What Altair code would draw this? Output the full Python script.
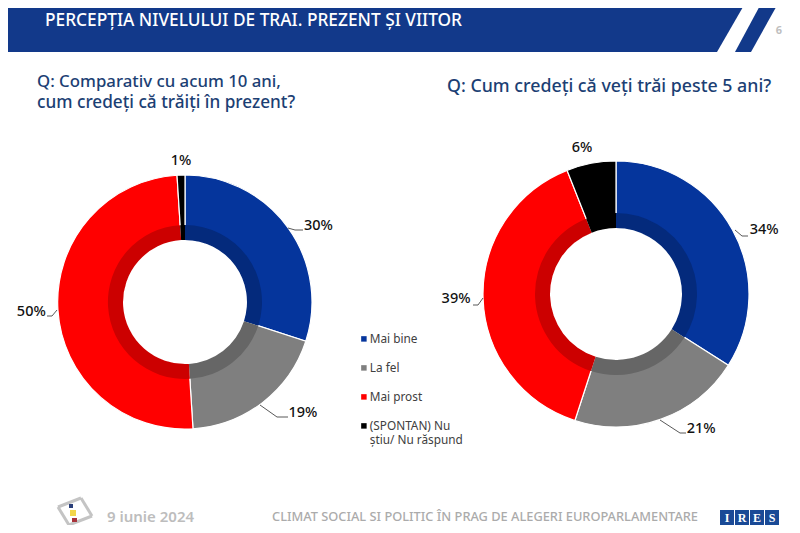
import altair as alt
import pandas as pd

categories = ["Mai bine", "La fel", "Mai prost", "(SPONTAN) Nu știu/ Nu răspund"]
present_values = [30, 19, 50, 1]
future_values = [34, 21, 39, 6]
base_colors = ["#05359c", "#7f7f7f", "#ff0000", "#000000"]
dark_colors = ["#042a7c", "#666666", "#cc0000", "#000000"]

OFF = 8  # page margin: reference pixel -> chart pixel
FONT = "Noto Sans"


def px(v):
    return v - OFF


one = alt.Data(values=[{"a": 1}])


def frame(values):
    return pd.DataFrame({
        "cat": categories,
        "value": values,
        "i": list(range(len(categories))),
        "label": [f"{v}%" for v in values],
        "dark": dark_colors,
    })


def text(s, x, y, size, color, weight=400, align="left", font=FONT):
    return alt.Chart(one).mark_text(
        text=s, fontSize=size, color=color, fontWeight=weight, align=align,
        baseline="middle", font=font,
    ).encode(x=alt.value(px(x)), y=alt.value(px(y)))


def seg(x1, y1, x2, y2, color="#595959", w=1.0):
    return alt.Chart(one).mark_rule(color=color, strokeWidth=w).encode(
        x=alt.value(px(x1)), x2=alt.value(px(x2)), y=alt.value(px(y1)), y2=alt.value(px(y2))
    )


def rect(x1, y1, x2, y2, color):
    return alt.Chart(one).mark_rect(color=color).encode(
        x=alt.value(px(x1)), x2=alt.value(px(x2)), y=alt.value(px(y1)), y2=alt.value(px(y2))
    )


def slant(xt1, xt2, xb1, xb2, color):
    rows = [{"x": px(xt1), "x2": px(xt2), "y": px(0)}, {"x": px(xb1), "x2": px(xb2), "y": px(52)}]
    return alt.Chart(alt.Data(values=rows)).mark_area(color=color, orient="horizontal").encode(
        x=alt.X("x:Q", scale=None, axis=None), x2="x2:Q", y=alt.Y("y:Q", scale=None, axis=None)
    )


def donut(values, cx, cy, r_out, r_dark, r_in, legend):
    theta = alt.Theta("value:Q", stack=True, scale=alt.Scale(domain=[0, 100]))
    pos = dict(x=alt.value(px(cx)), y=alt.value(px(cy)), order=alt.Order("i:Q"))
    color = alt.Color(
        "cat:N", sort=categories, scale=alt.Scale(domain=categories, range=base_colors), legend=legend
    )
    src = alt.Chart(frame(values))
    outer = src.mark_arc(outerRadius=r_out, innerRadius=r_in, stroke="white", strokeWidth=1.2).encode(
        theta=theta, color=color, **pos
    )
    inner = src.mark_arc(outerRadius=r_dark, innerRadius=r_in).encode(
        theta=theta, fill=alt.Fill("dark:N", scale=None), **pos
    )
    return [outer, inner]


def labels(values, cx, cy, radius, offsets):
    theta = alt.Theta("value:Q", stack=True, scale=alt.Scale(domain=[0, 100]))
    out = []
    for i, (dx, dy) in enumerate(offsets):
        out.append(
            alt.Chart(frame(values)).mark_text(
                radius=radius, dx=dx, dy=dy, fontSize=14.5, color="#111111", font=FONT,
                fontWeight=500, align="center", baseline="middle",
            ).encode(
                theta=theta,
                x=alt.value(px(cx)), y=alt.value(px(cy)), order=alt.Order("i:Q"),
                text=alt.condition(f"datum.i == {i}", "label:N", alt.value("")),
            )
        )
    return out


legend = alt.Legend(
    title=None, orient="none", legendX=px(358), legendY=px(333), symbolType="square", symbolSize=30,
    symbolStrokeWidth=0, labelFont=FONT, labelFontSize=11.8, labelColor="#404040", labelOffset=0,
    rowPadding=16, labelLimit=140, columns=1,
    labelExpr="datum.label == '(SPONTAN) Nu știu/ Nu răspund' ? ['(SPONTAN) Nu', 'știu/ Nu răspund'] : datum.label",
)

NAVY = "#12398a"
Q = "#1c3f74"
GREY = "#bdbdbd"

layers = [
    slant(0, 747, 0, 717, NAVY),
    slant(763, 780, 735, 751, NAVY),
    text("PERCEPȚIA NIVELULUI DE TRAI. PREZENT ȘI VIITOR", 45, 21, 17.3, "white", 500),
    text("6", 779, 31, 11, "#bfbfbf", 700, "center"),
    text("Q: Comparativ cu acum 10 ani,", 37, 82, 16.8, Q, 500),
    text("cum credeți că trăiți în prezent?", 37, 103, 17.2, Q, 500),
    text("Q: Cum credeți că veți trăi peste 5 ani?", 447, 87, 17.8, Q, 500),
]
layers += donut(present_values, 185, 302, 127, 77, 62, legend)
layers += donut(future_values, 616, 294, 133, 81, 66, None)
layers += labels(present_values, 185, 302, 155, [(8, 15), (23, -11), (1, 0), (1, 14)])
layers += labels(future_values, 616, 294, 160, [(8, 13), (31, -16), (0, 0), (-4, 11)])

for pts in [
    [(288, 228), (295, 230), (303, 230)],
    [(260, 405), (277, 417), (288, 417)],
    [(57, 310), (52, 316), (47, 316)],
    [(735, 230), (742, 236), (748, 236)],
    [(660, 420), (680, 433), (686, 433)],
    [(483, 298), (478, 305), (473, 305)],
]:
    for (a, b), (c, d) in zip(pts, pts[1:]):
        layers.append(seg(a, b, c, d))

# footer: the chart ends at the page's 8px bottom margin, so it sits a few px higher
layers += [
    seg(58, 507, 81, 498, "#c4c4c4", 3), seg(81, 498, 92, 516, "#c4c4c4", 3),
    seg(92, 516, 69, 525, "#c4c4c4", 3), seg(69, 525, 58, 507, "#c4c4c4", 3),
    rect(69, 504, 73, 508, "#2a3f7a"), rect(70, 510, 76, 516, "#f2d64b"), rect(72, 518, 77, 522, "#a8323a"),
    text("9 iunie 2024", 107, 517, 15, GREY, 600),
    text("CLIMAT SOCIAL SI POLITIC ÎN PRAG DE ALEGERI EUROPARLAMENTARE", 272, 517, 12.8, "#ababab", 500),
]
for i, ch in enumerate("IRES"):
    x0 = 720 + i * 15
    layers.append(rect(x0, 510, x0 + 14, 525, "#1a4a96"))
    layers.append(text(ch, x0 + 7, 518, 12, "white", 700, "center", "Liberation Serif"))

chart = alt.layer(*layers).resolve_scale(color="independent", fill="independent").properties(
    width=784, height=517, padding=0, autosize=alt.AutoSizeParams(type="none"), background="white"
).configure_view(stroke=None)

chart.save("out.html", embed_options={"renderer": "svg", "actions": False})
